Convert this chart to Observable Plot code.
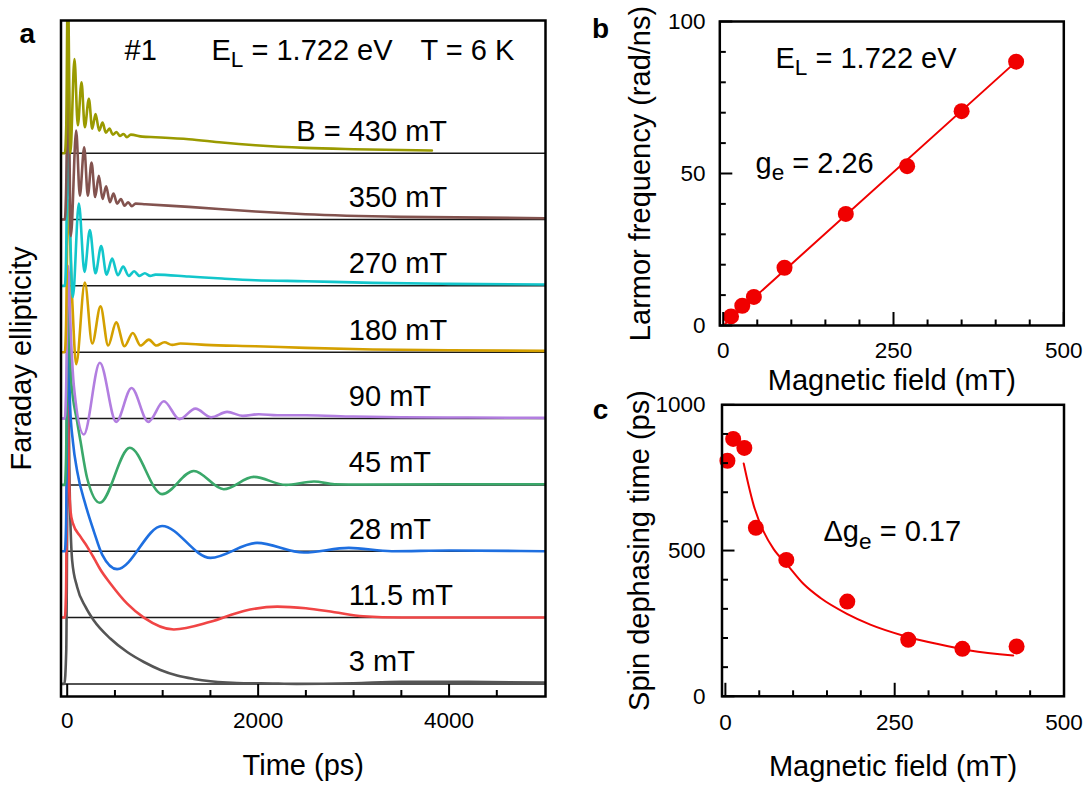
<!DOCTYPE html>
<html>
<head>
<meta charset="utf-8">
<script src="https://cdn.jsdelivr.net/npm/d3@7"></script>
<script src="https://cdn.jsdelivr.net/npm/@observablehq/plot@0.6"></script>
<style>
  html, body { margin: 0; padding: 0; background: #fff; }
  #root { position: relative; width: 1089px; height: 790px; background: #fff; overflow: hidden; }
  #root svg { position: absolute; overflow: visible; }
</style>
</head>
<body>
<div id="root"></div>
<script>
// ---------------- Panel a : Faraday ellipticity traces ----------------
const fieldNames  = ["3 mT", "11.5 mT", "28 mT", "45 mT", "90 mT", "180 mT", "270 mT", "350 mT", "430 mT"];
const fieldLabels = ["3 mT", "11.5 mT", "28 mT", "45 mT", "90 mT", "180 mT", "270 mT", "350 mT", "B = 430 mT"];
const traceOffsets = [0, 1, 2, 3, 4, 5, 6, 7, 8];

const time3   = [-63, -30, -10, 10, 25, 52, 104, 192, 279, 454, 628, 803, 977, 1151, 1326, 1500, 1675, 1850, 2024, 2400, 3000, 3500, 4200, 5000];
const signal3 = [0, 0, 0.5, 4.5, 3.0, 1.86, 1.46, 1.16, 0.955, 0.68, 0.48, 0.33, 0.21, 0.126, 0.075, 0.04, 0.02, 0.01, 0.01, 0.0, 0.01, 0.03, 0.03, 0.02];

const time11   = [-63, -25, -12, 5, 17, 35, 60, 139, 209, 279, 349, 454, 628, 803, 1117, 1500, 1850, 2200, 2500, 2800, 3100, 3500, 5000];
const signal11 = [0, 0, 0.4, 3.7, 2.2, 1.6, 1.42, 1.22, 1.07, 0.90, 0.72, 0.51, 0.21, 0.0, -0.18, -0.065, 0.10, 0.165, 0.14, 0.08, 0.02, 0.0, 0.0];

const time28   = [-63, -25, -12, 8, 30, 60, 104, 192, 279, 366, 523, 994, 1500, 1989, 2480, 2950, 3400, 4000, 5000];
const signal28 = [0, 0, 0.4, 3.3, 2.2, 1.65, 1.21, 0.70, 0.30, -0.05, -0.27, 0.38, -0.10, 0.126, -0.02, 0.05, 0.0, 0.01, 0.0];

const time45   = [-63, -25, -12, 8, 40, 104, 139, 209, 342, 656, 994, 1326, 1640, 1954, 2290, 2585, 2800, 3100, 4000, 5000];
const signal45 = [0, 0, 0.4, 2.7, 1.6, 0.955, 0.66, 0.10, -0.27, 0.56, -0.14, 0.21, -0.065, 0.12, 0.0, 0.05, 0.01, 0.005, 0.01, 0.01];

const time90   = [-63, -25, -12, 10, 40, 70, 174, 342, 513, 674, 849, 1012, 1176, 1343, 1508, 1675, 1840, 2007, 2200, 2500, 3000, 3500, 4200, 5000];
const signal90 = [0, 0, 0.4, 2.3, 1.2, 0.49, -0.24, 0.84, -0.05, 0.46, -0.05, 0.26, -0.01, 0.15, 0.02, 0.10, 0.04, 0.065, 0.05, 0.05, 0.03, 0.02, 0.015, 0.01];

const time180   = [-63, -25, -12, 8, 52, 94, 185, 262, 349, 429, 513, 600, 687, 768, 855, 935, 1019, 1099, 1186, 1448, 1972, 2496, 3200, 4000, 5000];
const signal180 = [0, 0, 0.4, 2.3, 0.8, -0.18, 1.05, 0.13, 0.69, 0.10, 0.45, 0.09, 0.29, 0.10, 0.19, 0.10, 0.15, 0.11, 0.13, 0.11, 0.09, 0.065, 0.04, 0.03, 0.02];

const time270   = [-63, -25, -12, 7, 30, 59, 122, 181, 237, 296, 356, 412, 471, 530, 586, 645, 701, 757, 813, 870, 925, 1274, 1622, 1972, 2496, 3200, 4000, 5000];
const signal270 = [0, 0, 0.4, 2.5, 0.9, -0.17, 1.24, 0.21, 0.84, 0.19, 0.60, 0.17, 0.41, 0.16, 0.29, 0.15, 0.22, 0.15, 0.19, 0.15, 0.17, 0.14, 0.11, 0.085, 0.07, 0.045, 0.03, 0.02];

const time350   = [-63, -25, -12, 10, 38, 94, 132, 178, 216, 255, 293, 331, 370, 408, 447, 485, 523, 562, 600, 639, 677, 716, 820, 1274, 1972, 2496, 3500, 5000];
const signal350 = [0, 0, 0.4, 2.32, -0.25, 1.34, 0.36, 1.09, 0.36, 0.86, 0.34, 0.66, 0.31, 0.50, 0.26, 0.39, 0.24, 0.31, 0.21, 0.26, 0.20, 0.24, 0.23, 0.19, 0.12, 0.08, 0.04, 0.02];

const time430   = [-63, -25, -10, 6, 33, 76, 111, 150, 184, 227, 262, 297, 335, 370, 405, 443, 478, 516, 551, 590, 625, 666, 786, 925, 1274, 1622, 1972, 2496, 3000, 3820];
const signal430 = [0, 0, 0.4, 2.6, 0.0, 1.42, 0.42, 1.07, 0.39, 0.82, 0.37, 0.59, 0.34, 0.46, 0.31, 0.37, 0.28, 0.32, 0.26, 0.29, 0.24, 0.28, 0.25, 0.24, 0.21, 0.16, 0.12, 0.08, 0.06, 0.04];

const traceTimes   = [time3, time11, time28, time45, time90, time180, time270, time350, time430];
const traceSignals = [signal3, signal11, signal28, signal45, signal90, signal180, signal270, signal350, signal430];

const timeTicksMajor = [0, 2000, 4000];
const timeTicksMinor = [500, 1000, 1500, 2500, 3000, 3500, 4500];

// ---------------- Panel b : Larmor frequency ----------------
const larmorField = [11.5, 28, 45, 90, 180, 270, 350, 430];
const larmorFreq  = [3.0, 6.5, 9.4, 19.0, 36.7, 52.4, 70.5, 86.8];
const larmorFitField = [3, 430];
const larmorFitFreq  = [0.6, 86.8];

// ---------------- Panel c : spin dephasing time ----------------
const dephField = [3, 11.5, 28, 45, 90, 180, 270, 350, 430];
const dephTime  = [808, 883, 852, 578, 468, 325, 194, 163, 171];
const dephFitField = [27, 34.4, 41.8, 56.5, 71.3, 91, 115.5, 140, 179.5, 214, 263, 312, 361, 425];
const dephFitTime  = [799, 722, 655, 565, 505, 452, 385, 338, 283, 246, 208, 180, 157, 140];

const fieldTicksMajor = [0, 250, 500];
const fieldTicksMinor = [50, 100, 150, 200, 300, 350, 400, 450];
const freqTicksMajor = [0, 50, 100];
const freqTicksMinor = [10, 20, 30, 40, 60, 70, 80, 90];
const timeYTicksMajor = [0, 500, 1000];
const timeYTicksMinor = [100, 200, 300, 400, 600, 700, 800, 900];

// ---------------- styles ----------------
const FONT = "'Liberation Sans', Arial, Helvetica, sans-serif";
const traceColors = ["#555555", "#f04545", "#1e6fe0", "#3aa86a", "#b27ee0", "#d4a000", "#12c6cb", "#83534f", "#9a9a00"];
const RED = "#f00000";
const BIG = 29, TICK = 22.5;
const MID = {lineAnchor: "middle"};

// ---------------- build panel a ----------------
const rows = fieldNames.flatMap((name, i) =>
  traceTimes[i].map((t, j) => ({name, t, y: traceSignals[i][j] + traceOffsets[i]})));
const labelRows = fieldLabels.map((label, i) => ({label, t: i === 8 ? 2400 : 2950, y: traceOffsets[i] + 0.33}));

const mA = {left: 60.5, right: 15, top: 20, bottom: 94, width: 560, height: 790};
const innerHA = mA.height - mA.top - mA.bottom;

const plotA = Plot.plot({
  width: mA.width, height: mA.height,
  marginLeft: mA.left, marginRight: mA.right, marginTop: mA.top, marginBottom: mA.bottom,
  style: {fontFamily: FONT, background: "transparent", color: "black", overflow: "visible"},
  x: {domain: [-65, 5010], axis: null},
  y: {domain: [-0.19, 10.0], axis: null},
  color: {domain: fieldNames, range: traceColors},
  marks: [
    Plot.ruleY(traceOffsets, {y: d => d, stroke: "#1a1a1a", strokeWidth: 1.5}),
    Plot.line(rows, {x: "t", y: "y", z: "name", stroke: "name", strokeWidth: 2.6, curve: "monotone-x", clip: true}),
    Plot.tickX(timeTicksMajor, {x: d => d, insetTop: innerHA - 12, strokeWidth: 2, stroke: "black"}),
    Plot.tickX(timeTicksMinor, {x: d => d, insetTop: innerHA - 6, strokeWidth: 2, stroke: "black"}),
    Plot.frame({stroke: "black", strokeWidth: 2.5}),
    Plot.text(timeTicksMajor, {x: d => d, text: d => String(d), frameAnchor: "bottom", dy: 24, fontSize: TICK, ...MID}),
    Plot.text(labelRows, {x: "t", y: "y", text: "label", textAnchor: "start", fontSize: BIG, ...MID}),
    Plot.text(["Time (ps)"], {text: d => d, frameAnchor: "bottom", dy: 69, fontSize: BIG, textAnchor: "middle", ...MID}),
    Plot.text(["Faraday ellipticity"], {text: d => d, frameAnchor: "left", dx: -39.5, rotate: -90, fontSize: BIG, textAnchor: "middle", ...MID}),
    Plot.text(["a"], {text: d => d, frameAnchor: "top-left", dx: -33.8, dy: 14, fontSize: 28, fontWeight: "bold", textAnchor: "middle", ...MID}),
    Plot.text(["#1"], {text: d => d, frameAnchor: "top-left", dx: 63.5, dy: 30, textAnchor: "start", fontSize: BIG, ...MID}),
    Plot.text(["E_L = 1.722 eV"], {text: d => d, frameAnchor: "top-left", dx: 150.5, dy: 30, textAnchor: "start", fontSize: BIG, ...MID}),
    Plot.text(["T = 6 K"], {text: d => d, frameAnchor: "top-left", dx: 359.5, dy: 30, textAnchor: "start", fontSize: BIG, ...MID})
  ]
});

// ---------------- build panel b ----------------
const larmorPts = larmorField.map((B, i) => ({B, w: larmorFreq[i]}));
const larmorFit = larmorFitField.map((B, i) => ({B, w: larmorFitFreq[i]}));
const mB = {left: 159.3, right: 25.7, top: 21, bottom: 70, width: 529, height: 395};
const innerHB = mB.height - mB.top - mB.bottom, innerWB = mB.width - mB.left - mB.right;

const plotB = Plot.plot({
  width: mB.width, height: mB.height,
  marginLeft: mB.left, marginRight: mB.right, marginTop: mB.top, marginBottom: mB.bottom,
  style: {fontFamily: FONT, background: "transparent", color: "black", overflow: "visible"},
  x: {domain: [-5, 500], axis: null},
  y: {domain: [0, 100], axis: null},
  marks: [
    Plot.line(larmorFit, {x: "B", y: "w", stroke: RED, strokeWidth: 2}),
    Plot.dot(larmorPts, {x: "B", y: "w", r: 8, fill: RED, stroke: "none"}),
    Plot.tickX(fieldTicksMajor, {x: d => d, insetTop: innerHB - 13, strokeWidth: 2, stroke: "black"}),
    Plot.tickX(fieldTicksMinor, {x: d => d, insetTop: innerHB - 5.5, strokeWidth: 2, stroke: "black"}),
    Plot.tickY(freqTicksMajor, {y: d => d, insetRight: innerWB - 13, strokeWidth: 2, stroke: "black"}),
    Plot.tickY(freqTicksMinor, {y: d => d, insetRight: innerWB - 6.5, strokeWidth: 2, stroke: "black"}),
    Plot.frame({stroke: "black", strokeWidth: 2.5}),
    Plot.text(fieldTicksMajor, {x: d => d, text: d => String(d), frameAnchor: "bottom", dy: 25, fontSize: TICK, ...MID}),
    Plot.text(freqTicksMajor, {y: d => d, text: d => String(d), frameAnchor: "left", dx: -14.3, textAnchor: "end", fontSize: TICK, ...MID}),
    Plot.text(["Magnetic field (mT)"], {text: d => d, frameAnchor: "bottom", dy: 55, fontSize: BIG, textAnchor: "middle", ...MID}),
    Plot.text(["Larmor frequency (rad/ns)"], {text: d => d, frameAnchor: "left", dx: -79.3, rotate: -90, fontSize: BIG, textAnchor: "middle", ...MID}),
    Plot.text(["b"], {text: d => d, frameAnchor: "top-left", dx: -119.3, dy: 8, fontSize: 28, fontWeight: "bold", textAnchor: "middle", ...MID}),
    Plot.text(["E_L = 1.722 eV"], {text: d => d, frameAnchor: "top-left", dx: 55.7, dy: 37, textAnchor: "start", fontSize: BIG, ...MID}),
    Plot.text(["g_e = 2.26"], {text: d => d, frameAnchor: "top-left", dx: 35.7, dy: 142, textAnchor: "start", fontSize: BIG, ...MID})
  ]
});

// ---------------- build panel c ----------------
const dephPts = dephField.map((B, i) => ({B, T: dephTime[i]}));
const dephFit = dephFitField.map((B, i) => ({B, T: dephFitTime[i]}));
const mC = {left: 161.5, right: 25.5, top: 9.3, bottom: 94.2, width: 529, height: 395};
const innerHC = mC.height - mC.top - mC.bottom, innerWC = mC.width - mC.left - mC.right;

const plotC = Plot.plot({
  width: mC.width, height: mC.height,
  marginLeft: mC.left, marginRight: mC.right, marginTop: mC.top, marginBottom: mC.bottom,
  style: {fontFamily: FONT, background: "transparent", color: "black", overflow: "visible"},
  x: {domain: [-5, 500], axis: null},
  y: {domain: [0, 1000], axis: null},
  marks: [
    Plot.line(dephFit, {x: "B", y: "T", stroke: RED, strokeWidth: 2, curve: "monotone-x"}),
    Plot.dot(dephPts, {x: "B", y: "T", r: 8, fill: RED, stroke: "none"}),
    Plot.tickX(fieldTicksMajor, {x: d => d, insetTop: innerHC - 13, strokeWidth: 2, stroke: "black"}),
    Plot.tickX(fieldTicksMinor, {x: d => d, insetTop: innerHC - 5.5, strokeWidth: 2, stroke: "black"}),
    Plot.tickY(timeYTicksMajor, {y: d => d, insetRight: innerWC - 13, strokeWidth: 2, stroke: "black"}),
    Plot.tickY(timeYTicksMinor, {y: d => d, insetRight: innerWC - 6.5, strokeWidth: 2, stroke: "black"}),
    Plot.frame({stroke: "black", strokeWidth: 2.5}),
    Plot.text(fieldTicksMajor, {x: d => d, text: d => String(d), frameAnchor: "bottom", dy: 26, fontSize: TICK, ...MID}),
    Plot.text(timeYTicksMajor, {y: d => d, text: d => String(d), frameAnchor: "left", dx: -16.5, textAnchor: "end", fontSize: TICK, ...MID}),
    Plot.text(["Magnetic field (mT)"], {text: d => d, frameAnchor: "bottom", dy: 70.2, fontSize: BIG, textAnchor: "middle", ...MID}),
    Plot.text(["Spin dephasing time (ps)"], {text: d => d, frameAnchor: "left", dx: -82.5, rotate: -90, fontSize: BIG, textAnchor: "middle", ...MID}),
    Plot.text(["c"], {text: d => d, frameAnchor: "top-left", dx: -121.5, dy: 5.7, fontSize: 28, fontWeight: "bold", textAnchor: "middle", ...MID}),
    Plot.text(["Δg_e = 0.17"], {text: d => d, frameAnchor: "top-left", dx: 101.5, dy: 127.4, textAnchor: "start", fontSize: BIG, ...MID})
  ]
});

// ---------------- subscripts (E_L, g_e) as real tspans ----------------
const SVGNS = "http://www.w3.org/2000/svg";
function applySubscripts(svg) {
  svg.querySelectorAll("text").forEach(t => {
    const s = t.textContent;
    const i = s.indexOf("_");
    if (i < 0) return;
    const fs = BIG;
    const before = s.slice(0, i), sub = s.charAt(i + 1), after = s.slice(i + 2);
    while (t.firstChild) t.removeChild(t.firstChild);
    t.appendChild(document.createTextNode(before));
    const ts = document.createElementNS(SVGNS, "tspan");
    ts.setAttribute("dy", (0.26 * fs).toFixed(1));
    ts.setAttribute("font-size", (0.78 * fs).toFixed(1));
    ts.textContent = sub;
    const ta = document.createElementNS(SVGNS, "tspan");
    ta.setAttribute("dy", (-0.26 * fs).toFixed(1));
    ta.textContent = after;
    t.appendChild(ts);
    t.appendChild(ta);
  });
}

const root = document.getElementById("root");
[[plotA, 0, 0], [plotB, 560, 0], [plotC, 560, 395]].forEach(([p, left, top]) => {
  p.style.left = left + "px";
  p.style.top = top + "px";
  applySubscripts(p);
  root.appendChild(p);
});
</script>
</body>
</html>
